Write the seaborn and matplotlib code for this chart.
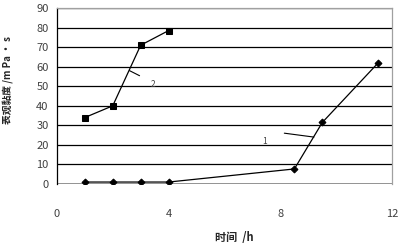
import matplotlib
matplotlib.use("Agg")
import matplotlib.pyplot as plt
import seaborn as sns
import pandas as pd

# Data
time_s1 = [1, 2, 3, 4, 8.5, 9.5, 11.5]
visc_s1 = [1, 1, 1, 1, 7.7, 31.5, 62]
time_s2 = [1, 2, 3, 4]
visc_s2 = [34, 40, 71, 78.5]
x_ticks = [0, 4, 8, 12]
y_ticks = [0, 10, 20, 30, 40, 50, 60, 70, 80, 90]

sns.set_style("white")
plt.rcParams['font.family'] = ['Noto Sans CJK SC', 'DejaVu Sans']

df1 = pd.DataFrame({"t": time_s1, "v": visc_s1})
df2 = pd.DataFrame({"t": time_s2, "v": visc_s2})

fig = plt.figure(figsize=(4.06, 2.45), dpi=100)
ax = fig.add_axes([0.140, 0.249, 0.826, 0.718])

for yv in y_ticks[1:]:
    ax.axhline(yv, color="black", lw=0.9, zorder=1)
ax.axhline(0, color="#808080", lw=1.2, zorder=1)

sns.lineplot(data=df1, x="t", y="v", ax=ax, color="black", lw=0.9,
             marker="D", markersize=3.5, markeredgecolor="black", zorder=3)
sns.lineplot(data=df2, x="t", y="v", ax=ax, color="black", lw=0.9,
             marker="s", markersize=4.5, markeredgecolor="black", zorder=3)

ax.set_xlim(0, 12)
ax.set_ylim(0, 90)
ax.set_xticks(x_ticks)
ax.set_yticks(y_ticks)
ax.tick_params(axis="x", direction="out", length=5, width=0.8, pad=13,
               labelsize=8, labelcolor="#404040", color="black")
ax.tick_params(axis="y", direction="out", length=3, width=0.8, pad=3,
               labelsize=8, labelcolor="#404040", color="black")

for s in ["top", "right"]:
    ax.spines[s].set_color("#a0a0a0")
    ax.spines[s].set_linewidth(0.9)
ax.spines["left"].set_color("black")
ax.spines["left"].set_linewidth(0.9)
ax.spines["bottom"].set_visible(False)

# leader lines and curve labels
ax.plot([2.6, 2.96], [58, 55.4], color="black", lw=0.8)
ax.text(3.45, 51, "2", fontsize=6, color="#404040", ha="center", va="center")
ax.plot([8.14, 9.2], [26, 24], color="black", lw=0.8)
ax.text(7.43, 21.5, "1", fontsize=6, color="#404040", ha="center", va="center")

ax.set_xlabel("时间  /h", fontsize=8, fontweight="bold")
ax.xaxis.set_label_coords(0.53, -0.27)
ax.set_ylabel("表观黏度 /m Pa • s", fontsize=7, fontweight="bold")
ax.yaxis.set_label_coords(-0.13, 0.59)

fig.savefig("out.png", dpi=100)
